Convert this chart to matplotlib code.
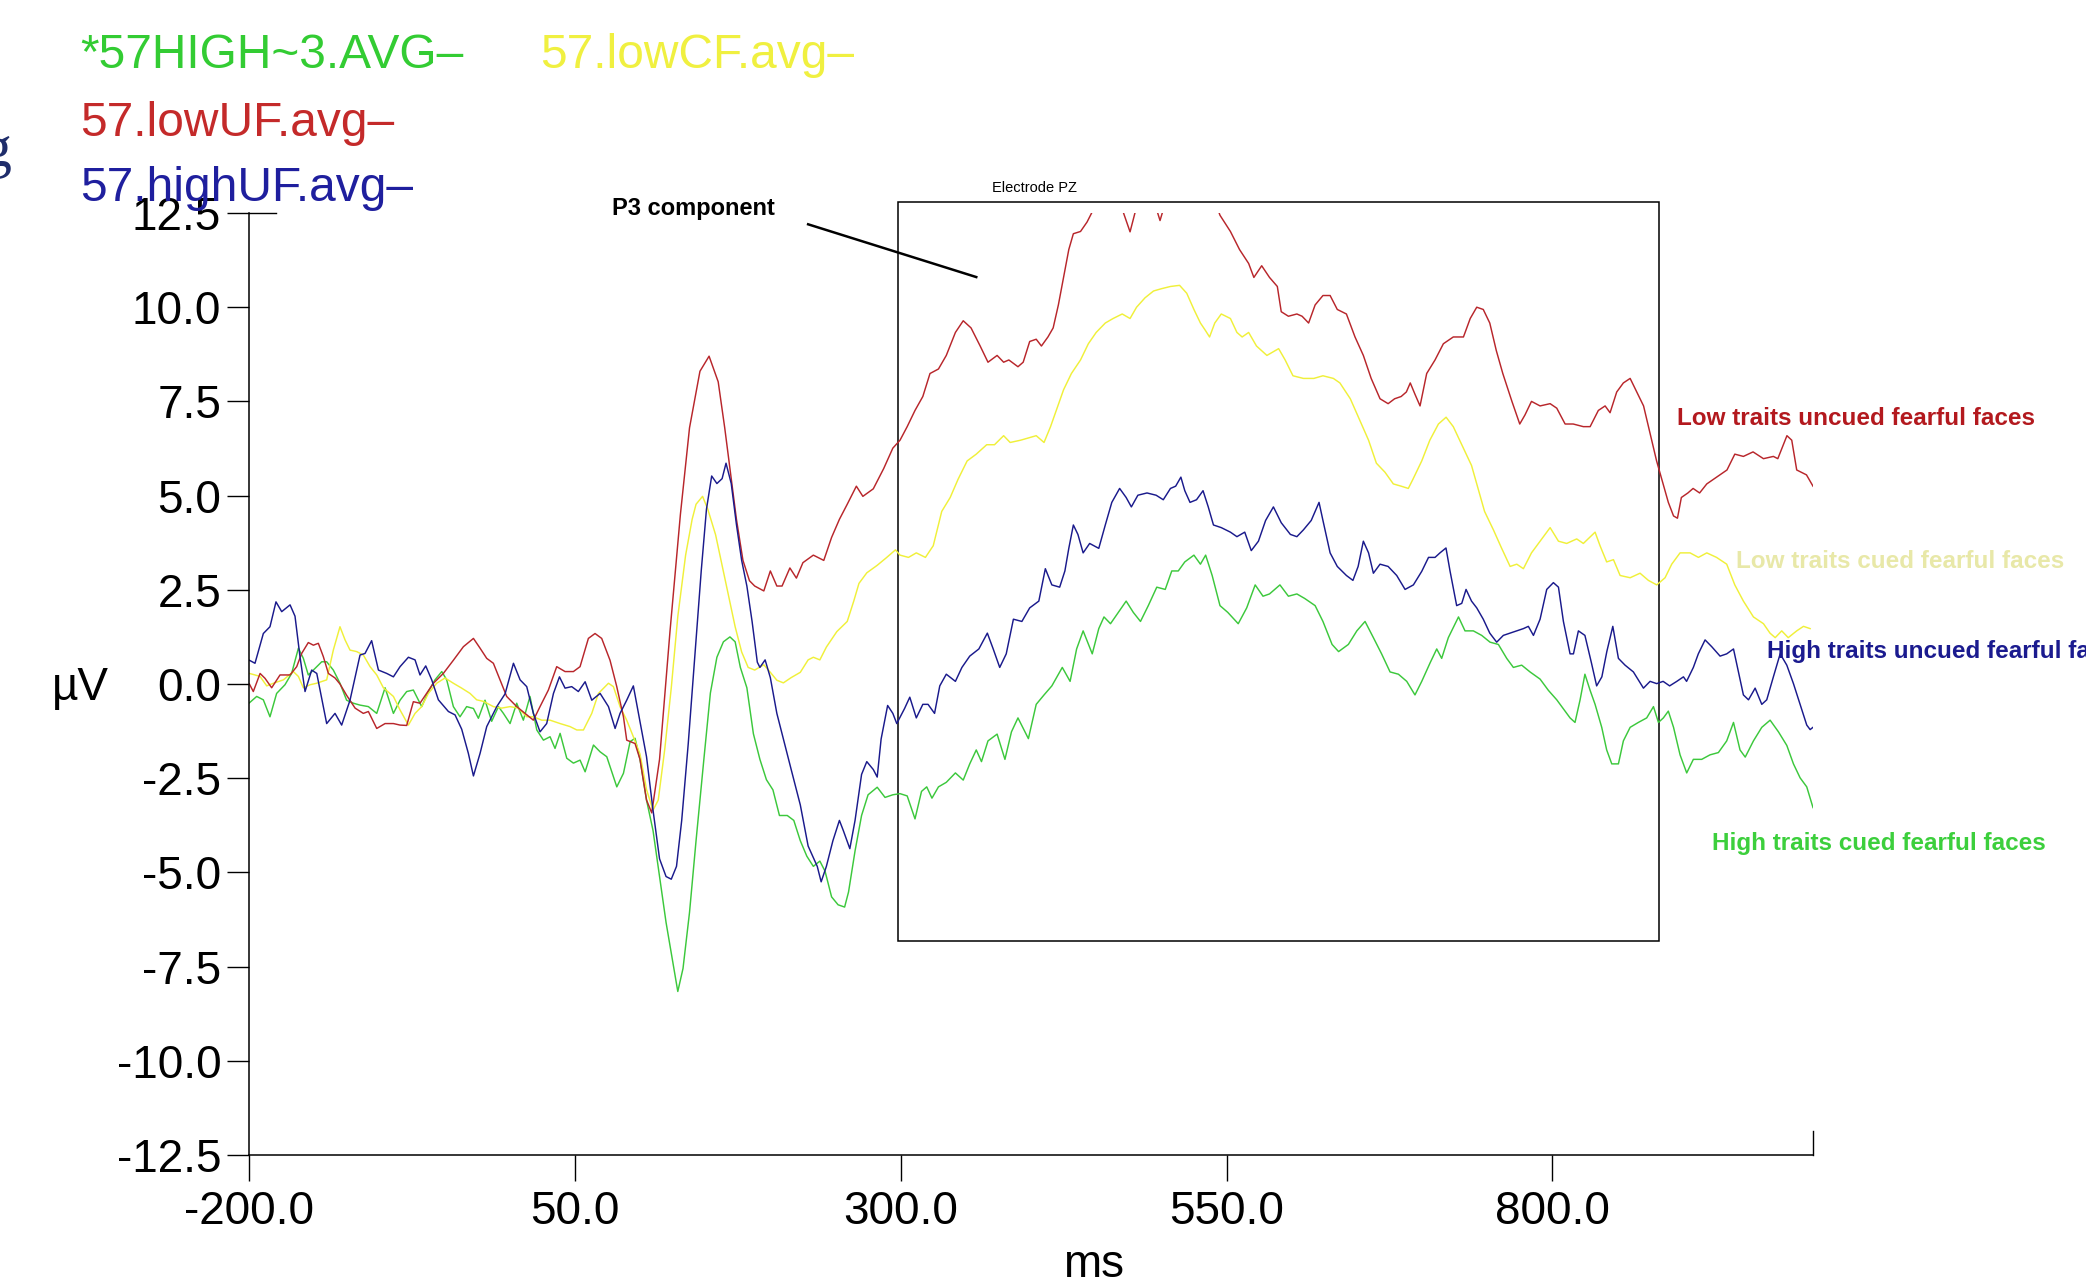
import matplotlib
matplotlib.use("Agg")
import matplotlib.pyplot as plt
from matplotlib.patches import Rectangle

plt.rcParams["font.family"] = ["Liberation Sans", "DejaVu Sans"]

# ── ERP waveforms, electrode PZ (ms, µV) ────────────────────────────────────
red_ms = [-199.7, -196.7, -191.5, -187.7, -182.6, -176.2, -168.5, -163.4, -159.6, -154.5,
          -150.6, -146.8, -143.0, -139.1, -134.0, -130.2, -125.1, -118.6, -112.3, -108.4,
          -102.0, -95.6, -89.2, -84.1, -79.0, -73.9, -68.8, -63.7, -58.5, -50.9,
          -43.2, -35.5, -27.8, -22.7, -17.6, -12.5, -7.4, -2.3, 5.4, 11.8,
          18.2, 23.3, 29.7, 36.1, 42.5, 48.9, 54.0, 60.4, 65.5, 70.6,
          77.0, 82.1, 87.3, 89.8, 96.2, 100, 105, 109, 115, 123,
          131, 138, 146, 153, 160, 165, 169, 174, 179, 184,
          188, 195, 200, 205, 209, 215, 220, 225, 233, 241,
          247, 253, 259, 266, 271, 279, 287, 294, 299.5, 305,
          311, 317, 322.5, 329, 335, 342, 348, 354, 361, 367,
          374, 379, 383, 390, 394, 399, 404, 408, 413, 417,
          421, 425, 429, 432.5, 438, 443, 448, 455, 462, 468,
          476, 482, 490, 499, 505, 515, 525, 535, 545, 553,
          560, 567, 571, 577, 583, 589, 592, 597.5, 604, 608,
          613, 618, 624, 629.5, 635, 642, 648.6, 655, 661, 667.8,
          674, 679, 684, 688, 691, 694.6, 698.5, 703.6, 710, 716.4,
          724, 731.8, 737, 742, 747, 752, 757, 762, 769, 775,
          779, 784, 790.6, 798.3, 803.4, 809.8, 816, 823.8, 829, 835.3,
          840.5, 844.3, 849.4, 854.5, 859.7, 864.8, 870, 875, 880, 884,
          889, 893, 896, 899, 904, 908, 913, 918.5, 926, 934,
          940, 946.6, 954, 962, 969.6, 973, 980, 983.7, 987.5, 991,
          995, 1000]
red_uv = [0.0, -0.2, 0.28, 0.15, -0.1, 0.24, 0.24, 0.46, 0.81, 1.1,
          1.03, 1.08, 0.73, 0.28, 0.16, 0.0, -0.3, -0.64, -0.78, -0.73,
          -1.18, -1.05, -1.05, -1.09, -1.1, -0.47, -0.51, -0.25, 0.02, 0.28,
          0.63, 0.99, 1.21, 0.95, 0.68, 0.55, 0.11, -0.33, -0.6, -0.78,
          -0.96, -0.6, -0.16, 0.46, 0.33, 0.33, 0.46, 1.21, 1.34, 1.21,
          0.63, -0.06, -0.87, -1.49, -1.58, -2.0, -3.08, -3.42, -2.0, 1.39,
          4.5, 6.8, 8.3, 8.7, 8.02, 6.8, 5.72, 4.37, 3.28, 2.74,
          2.6, 2.47, 3.0, 2.6, 2.6, 3.08, 2.81, 3.22, 3.42, 3.28,
          3.89, 4.37, 4.77, 5.25, 4.98, 5.18, 5.72, 6.26, 6.47, 6.83,
          7.26, 7.63, 8.24, 8.36, 8.72, 9.33, 9.64, 9.45, 8.97, 8.54,
          8.72, 8.54, 8.6, 8.42, 8.54, 9.09, 9.15, 8.97, 9.21, 9.45,
          10.06, 10.79, 11.53, 11.95, 12.01, 12.26, 12.6, 13.0, 13.2, 12.8,
          12.0, 12.8, 13.3, 12.3, 13.0, 13.6, 13.8, 13.4, 12.44, 12.01,
          11.53, 11.16, 10.79, 11.1, 10.79, 10.55, 9.88, 9.76, 9.82, 9.76,
          9.58, 10.06, 10.31, 10.31, 9.94, 9.82, 9.21, 8.72, 8.11, 7.57,
          7.44, 7.57, 7.63, 7.75, 7.99, 7.69, 7.38, 8.24, 8.6, 9.03,
          9.21, 9.21, 9.7, 10.0, 9.94, 9.58, 8.85, 8.24, 7.5, 6.9,
          7.14, 7.5, 7.38, 7.44, 7.32, 6.9, 6.9, 6.83, 6.83, 7.26,
          7.38, 7.2, 7.75, 7.99, 8.11, 7.75, 7.38, 6.65, 5.92, 5.43,
          4.82, 4.46, 4.4, 4.95, 5.07, 5.19, 5.07, 5.31, 5.49, 5.68,
          6.1, 6.04, 6.16, 5.98, 6.04, 5.98, 6.59, 6.47, 5.68, 5.62,
          5.55, 5.25]

yellow_ms = [-199.7, -195.4, -191.5, -186.4, -181.3, -173.6, -166.0, -162.1, -158.3, -153.2,
             -148.1, -140.4, -135.3, -130.2, -126.3, -122.5, -117.4, -112.3, -107.1, -102.0,
             -96.9, -89.2, -84.1, -77.7, -72.6, -67.5, -62.4, -56.0, -49.6, -43.2,
             -36.8, -30.4, -25.3, -20.2, -12.5, -6.1, 0.3, 6.7, 13.1, 18.2,
             24.6, 31.0, 38.7, 46.3, 51.5, 56.6, 63.0, 68.1, 75.8, 79.6,
             84.7, 89.8, 94.9, 100, 105, 110, 114, 119, 124, 129,
             135, 140, 143, 148, 152, 158, 163, 168, 173, 178,
             183, 188, 195, 200, 205, 210, 216, 223, 229, 233,
             238, 243, 251, 259, 264, 268, 274, 282, 289, 296,
             299.5, 306, 312, 319, 325, 331.5, 338, 344, 351, 358,
             366, 372, 379, 384, 392, 398, 404, 410, 415, 420,
             425, 431, 438, 444, 450, 457, 463, 470, 476, 481,
             487.5, 494, 500, 507, 514, 519.5, 525, 530, 533.5, 537,
             541, 546, 553, 558, 562, 567, 573, 581, 590, 595,
             601, 609, 617, 624, 632, 637, 645, 652, 659, 665,
             671.6, 678, 684, 689.5, 693, 699.8, 706, 712.6, 718.5, 724,
             730.5, 738, 743, 748, 754.8, 761, 767.6, 772.7, 777.8, 784,
             791.9, 798.3, 804.7, 811, 818.7, 823.8, 832.8, 836.6, 841.7, 846.9,
             852, 859.7, 867.3, 873.7, 880.1, 886.5, 891.6, 898, 905.7, 912.1,
             918.5, 926, 933.8, 940, 946.6, 954.3, 962, 967, 971, 976,
             981, 987.5, 992.7, 997.8]
yellow_uv = [0.28, 0.24, 0.2, -0.05, 0.02, 0.11, 0.33, 0.2, -0.1, -0.02,
             0.02, 0.11, 0.9, 1.52, 1.17, 0.9, 0.86, 0.77, 0.46, 0.24,
             -0.1, -0.33, -0.69, -1.09, -0.78, -0.6, -0.25, 0.02, 0.16, 0.02,
             -0.11, -0.25, -0.42, -0.46, -0.6, -0.64, -0.6, -0.64, -0.87, -0.87,
             -0.96, -0.96, -1.05, -1.13, -1.22, -1.22, -0.78, -0.25, 0.02, -0.07,
             -0.6, -0.96, -1.4, -1.86, -2.8, -3.35, -3.08, -1.73, -0.1, 1.79,
             3.42, 4.37, 4.77, 4.98, 4.64, 3.96, 3.15, 2.34, 1.52, 0.85,
             0.44, 0.37, 0.51, 0.31, 0.1, 0.03, 0.17, 0.31, 0.64, 0.71,
             0.64, 0.98, 1.39, 1.66, 2.2, 2.67, 2.95, 3.15, 3.35, 3.56,
             3.42, 3.36, 3.48, 3.36, 3.67, 4.58, 4.95, 5.43, 5.92, 6.1,
             6.35, 6.35, 6.59, 6.41, 6.47, 6.53, 6.59, 6.41, 6.83, 7.32,
             7.81, 8.24, 8.6, 9.03, 9.33, 9.58, 9.7, 9.82, 9.7, 10.0,
             10.25, 10.43, 10.49, 10.55, 10.58, 10.37, 9.94, 9.58, 9.4, 9.21,
             9.58, 9.82, 9.7, 9.33, 9.21, 9.33, 8.97, 8.72, 8.9, 8.6,
             8.18, 8.11, 8.11, 8.18, 8.11, 7.99, 7.57, 7.02, 6.47, 5.86,
             5.62, 5.31, 5.25, 5.19, 5.43, 5.92, 6.47, 6.9, 7.08, 6.83,
             6.35, 5.8, 5.19, 4.58, 4.09, 3.61, 3.12, 3.18, 3.06, 3.48,
             3.85, 4.15, 3.79, 3.73, 3.85, 3.73, 4.03, 3.67, 3.24, 3.3,
             2.88, 2.82, 2.94, 2.75, 2.63, 2.82, 3.18, 3.48, 3.48, 3.36,
             3.48, 3.36, 3.18, 2.63, 2.2, 1.78, 1.6, 1.35, 1.23, 1.41,
             1.23, 1.41, 1.53, 1.47]

blue_ms = [-199.7, -195.4, -189.0, -183.9, -179.3, -174.9, -168.5, -164.7, -160.9, -157.0,
           -151.9, -148.0, -140.4, -134.0, -128.9, -122.5, -114.8, -111.0, -105.9, -100.7,
           -94.3, -89.2, -84.1, -77.7, -72.6, -68.8, -64.4, -59.8, -54.7, -47.0,
           -41.9, -36.8, -31.7, -27.8, -22.7, -17.6, -9.9, -3.5, 2.9, 8.0,
           13.1, 18.2, 23.3, 28.4, 33.6, 38.2, 42.5, 47.6, 52.7, 57.9,
           63.0, 69.4, 75.8, 80.9, 84.7, 89.8, 94.9, 98.8, 105, 110,
           115, 120, 124, 128, 132, 137, 142, 147, 151, 155,
           159, 163, 166, 170, 174, 178, 182, 186, 190, 192,
           196, 200, 205, 210, 216, 223, 229, 236, 239, 243,
           248, 253, 256, 261, 265, 270, 274, 279, 282, 285,
           290, 294, 297, 303, 307, 312, 317, 321, 326, 330,
           335, 342, 347, 353, 360, 366.5, 371, 376, 381, 386.5,
           393, 399, 406, 411, 416, 422, 426, 429, 432.5, 436,
           440, 445, 452, 457, 462, 468, 473, 477, 482, 489,
           496, 501.5, 507, 511, 515, 518, 522, 527, 532, 536,
           540, 546, 553, 558, 564, 569, 574.5, 580, 586, 592,
           599, 604, 609, 615, 621, 624, 629.5, 635, 642, 647,
           651, 655, 659, 662.7, 667.8, 674, 680.6, 687, 693.4, 699.8,
           705, 710, 713.8, 718.4, 721.5, 726.6, 730.5, 733.8, 738, 742,
           747, 752, 757.3, 762.4, 767.6, 772.7, 777.8, 781.6, 785.5, 790.6,
           795.7, 800.8, 804.7, 808.5, 813.6, 816.2, 820, 825, 830, 834,
           838, 841.8, 846.4, 850.7, 855.8, 862.2, 869.9, 875, 880.1, 885,
           890, 895.5, 900.6, 903, 908.2, 912, 917.2, 922.3, 928.7, 933.8,
           939, 942.8, 946.6, 950.5, 955.6, 960.7, 964.5, 969.6, 974.8, 979.9,
           985, 990.1, 995.2, 997.8, 1000]
blue_uv = [0.63, 0.55, 1.34, 1.52, 2.18, 1.92, 2.1, 1.8, 0.73, -0.2,
           0.37, 0.28, -1.05, -0.78, -1.09, -0.43, 0.77, 0.81, 1.15, 0.37,
           0.28, 0.19, 0.46, 0.71, 0.64, 0.24, 0.48, 0.11, -0.42, -0.73,
           -0.82, -1.2, -1.84, -2.44, -1.84, -1.13, -0.6, -0.26, 0.55, 0.11,
           -0.07, -0.78, -1.27, -1.05, -0.25, 0.19, -0.11, -0.07, -0.2, 0.06,
           -0.43, -0.25, -0.6, -1.18, -0.78, -0.43, -0.05, -0.78, -1.93, -3.35,
           -4.64, -5.11, -5.18, -4.84, -3.62, -1.59, 0.71, 3.01, 4.64, 5.52,
           5.32, 5.45, 5.86, 5.32, 4.23, 3.28, 2.6, 1.66, 0.58, 0.44,
           0.64, 0.17, -0.78, -1.46, -2.27, -3.21, -4.3, -4.84, -5.25, -4.84,
           -4.16, -3.62, -3.89, -4.37, -3.62, -2.4, -2.06, -2.27, -2.47, -1.46,
           -0.57, -0.78, -1.05, -0.65, -0.35, -0.9, -0.54, -0.54, -0.78, -0.05,
           0.26, 0.07, 0.44, 0.74, 0.93, 1.35, 0.93, 0.44, 0.8, 1.72,
           1.66, 2.02, 2.2, 3.06, 2.63, 2.57, 3.0, 3.6, 4.22, 3.97,
           3.48, 3.73, 3.6, 4.22, 4.82, 5.19, 4.95, 4.7, 5.01, 5.07,
           5.01, 4.89, 5.19, 5.25, 5.49, 5.13, 4.82, 4.89, 5.13, 4.7,
           4.22, 4.15, 4.03, 3.91, 4.03, 3.54, 3.79, 4.34, 4.7, 4.28,
           3.97, 3.91, 4.09, 4.34, 4.82, 4.34, 3.48, 3.12, 2.88, 2.75,
           3.12, 3.79, 3.48, 2.94, 3.18, 3.12, 2.88, 2.51, 2.63, 2.99,
           3.36, 3.36, 3.48, 3.61, 3.0, 2.08, 2.14, 2.51, 2.2, 2.02,
           1.72, 1.35, 1.11, 1.29, 1.35, 1.41, 1.47, 1.53, 1.29, 1.72,
           2.51, 2.69, 2.57, 1.66, 0.8, 0.8, 1.41, 1.29, 0.56, -0.05,
           0.19, 0.86, 1.53, 0.68, 0.5, 0.32, -0.11, 0.07, 0.01, 0.07,
           -0.05, 0.07, 0.19, 0.07, 0.44, 0.8, 1.17, 0.99, 0.74, 0.8,
           0.93, 0.32, -0.29, -0.42, -0.11, -0.54, -0.42, 0.19, 0.8, 0.5,
           0.01, -0.54, -1.09, -1.21, -1.15]

green_ms = [-199.7, -194.1, -189.0, -183.9, -178.8, -172.4, -167.3, -162.1, -158.3, -154.5,
            -150.6, -144.2, -140.4, -135.3, -130.2, -125.1, -119.9, -114.8, -108.4, -102.0,
            -95.6, -89.2, -84.1, -79.0, -73.9, -67.5, -62.4, -57.3, -52.1, -48.3,
            -43.2, -38.1, -33.0, -27.8, -24.0, -18.9, -13.8, -8.6, -4.8, 0.3,
            5.4, 10.5, 15.6, 20.8, 25.9, 31.0, 34.8, 38.7, 43.8, 48.9,
            54.0, 57.9, 64.3, 69.4, 74.5, 82.2, 87.3, 92.4, 96.2, 100,
            105, 110, 115, 120, 126, 129, 133, 138, 143, 149,
            154, 159, 164, 169, 173, 177, 182, 187, 192, 197,
            202, 207, 213, 218, 223, 228, 233, 238, 242, 247,
            252, 257, 260, 265, 270, 275, 282, 288, 294, 299.5,
            305, 311, 316, 320, 324, 329, 335, 342, 348, 353,
            358, 362, 367, 374, 380, 385, 390, 398, 404, 410,
            416, 424, 430, 435, 440, 447, 452, 456, 461, 467,
            473, 478.5, 484, 490, 496.5, 503, 508, 513, 518, 525,
            530, 534, 539, 545, 551, 559, 565.5, 572, 578, 583,
            591, 597.5, 604, 610, 618, 624, 631, 636, 643.5, 650,
            656.3, 662.7, 669, 675.5, 681.9, 688.3, 694.6, 699.8, 706.2, 711.3,
            715.1, 720.2, 728, 733, 739.4, 745.8, 752.2, 758.6, 765, 770.1,
            776.5, 782.9, 790.6, 797, 803.4, 808.5, 813.6, 817.4, 821.3, 825,
            829, 832.8, 837.9, 841.7, 845.6, 850.7, 854.5, 859.7, 866, 872.4,
            877.6, 881.4, 885.2, 889, 893, 898, 903.1, 908.2, 914.6, 921,
            927.4, 933.8, 939, 944, 948, 954.3, 960.7, 967.1, 973.5, 979.9,
            985, 990.1, 995.2, 1000]
green_uv = [-0.5, -0.33, -0.42, -0.87, -0.25, -0.02, 0.28, 0.95, 0.68, 0.24,
            0.37, 0.59, 0.59, 0.37, 0.02, -0.43, -0.51, -0.56, -0.6, -0.78,
            -0.1, -0.78, -0.43, -0.2, -0.16, -0.6, -0.2, 0.11, 0.33, 0.11,
            -0.6, -0.87, -0.6, -0.65, -0.91, -0.43, -0.99, -0.6, -0.78, -1.05,
            -0.51, -0.96, -0.33, -1.22, -1.49, -1.4, -1.71, -1.31, -1.97, -2.1,
            -2.02, -2.33, -1.62, -1.8, -1.93, -2.73, -2.37, -1.53, -1.44, -2.0,
            -3.08, -3.89, -5.11, -6.33, -7.55, -8.16, -7.55, -6.06, -4.16, -2.0,
            -0.24, 0.71, 1.12, 1.25, 1.12, 0.44, -0.1, -1.32, -2.0, -2.54,
            -2.81, -3.49, -3.49, -3.62, -4.16, -4.57, -4.84, -4.7, -4.97, -5.65,
            -5.86, -5.92, -5.52, -4.43, -3.49, -2.94, -2.74, -3.01, -2.94, -2.91,
            -2.97, -3.58, -2.85, -2.73, -3.03, -2.73, -2.61, -2.36, -2.55, -2.12,
            -1.75, -2.06, -1.51, -1.33, -2.0, -1.27, -0.9, -1.45, -0.54, -0.29,
            -0.05, 0.44, 0.07, 0.93, 1.41, 0.8, 1.47, 1.78, 1.6, 1.9,
            2.2, 1.9, 1.66, 2.08, 2.57, 2.51, 3.0, 3.0, 3.24, 3.42,
            3.18, 3.42, 2.88, 2.08, 1.9, 1.6, 2.02, 2.63, 2.33, 2.39,
            2.63, 2.33, 2.39, 2.27, 2.08, 1.66, 1.05, 0.86, 1.05, 1.41,
            1.66, 1.23, 0.8, 0.32, 0.26, 0.07, -0.29, 0.07, 0.56, 0.93,
            0.68, 1.23, 1.78, 1.41, 1.41, 1.29, 1.11, 1.05, 0.68, 0.44,
            0.5, 0.32, 0.13, -0.17, -0.42, -0.66, -0.9, -1.02, -0.42, 0.26,
            -0.17, -0.54, -1.15, -1.75, -2.12, -2.12, -1.51, -1.15, -1.02, -0.9,
            -0.6, -1.02, -0.9, -0.72, -1.15, -1.88, -2.36, -2.0, -2.0, -1.88,
            -1.82, -1.51, -1.02, -1.75, -1.94, -1.51, -1.15, -0.96, -1.27, -1.63,
            -2.12, -2.49, -2.73, -3.28]

legend_names = ["*57HIGH~3.AVG", "57.lowCF.avg", "57.lowUF.avg", "57.highUF.avg"]
condition_labels = ["High traits cued fearful faces", "Low traits cued fearful faces",
                    "Low traits uncued fearful faces", "High traits uncued fearful faces"]

x_ticks = [-200, 50, 300, 550, 800]
x_tick_labels = ["-200.0", "50.0", "300.0", "550.0", "800.0"]
y_ticks = [-12.5, -10.0, -7.5, -5.0, -2.5, 0.0, 2.5, 5.0, 7.5, 10.0, 12.5]
y_tick_labels = [f"{v:.1f}" for v in y_ticks]

# P3 window (ms / µV) and the pointer line
p3_box = (298, -6.83, 881.5, 12.78)
p3_pointer_ms = [229, 358]
p3_pointer_uv = [12.2, 10.8]

# ── figure ──────────────────────────────────────────────────────────────────
W, H = 2086, 1287
fig = plt.figure(figsize=(W / 100, H / 100), dpi=100, facecolor="white")
ax = fig.add_axes([249 / W, 1 - 1155 / H, (1813 - 249) / W, 942 / H])

series = [
    (green_ms, green_uv, "#3cc83c"),
    (yellow_ms, yellow_uv, "#f0f03a"),
    (red_ms, red_uv, "#b8262b"),
    (blue_ms, blue_uv, "#1a1a8c"),
]
for ms, uv, col in series:
    ax.plot(ms, uv, color=col, lw=1.05)

ax.set_xlim(-200, 1000)
ax.set_ylim(-12.5, 12.5)
ax.set_xticks(x_ticks)
ax.set_xticklabels(x_tick_labels)
ax.set_yticks(y_ticks)
ax.set_yticklabels(y_tick_labels)
ax.tick_params(axis="x", length=19, width=1, pad=6.5, labelsize=33, direction="out")
ax.tick_params(axis="y", length=16, width=1, pad=4, labelsize=33, direction="out")
for side in ("top", "right"):
    ax.spines[side].set_visible(False)
for side in ("left", "bottom"):
    ax.spines[side].set_linewidth(1.1)

# small upward tick at the end of the time axis, and the top tick crossing the axis
ax.axvline(1000, 0, 0.026, color="black", lw=1, clip_on=False)
ax.plot([0, 27 / 1564], [1, 1], transform=ax.transAxes, color="black", lw=1, clip_on=False)

x0, y0, x1, y1 = p3_box
ax.add_patch(Rectangle((x0, y0), x1 - x0, y1 - y0, fill=False, ec="black", lw=1.1, clip_on=False))
ax.plot(p3_pointer_ms, p3_pointer_uv, color="black", lw=1.8, clip_on=False)

def ftext(px, py, s, **kw):
    fig.text(px / W, 1 - py / H, s, **kw)

ftext(612, 215, "P3 component", fontsize=17, fontweight="bold", va="baseline")
ftext(992, 192, "Electrode PZ", fontsize=10.5, va="baseline")

# file legend top-left
legend_pos = [(80, 68), (540, 68), (80, 136), (80, 201)]
legend_cols = ["#33cc33", "#f0f040", "#c42a2a", "#1f1f9e"]
for (px, py), name, col in zip(legend_pos, legend_names, legend_cols):
    ftext(px, py, name + "\u2013", fontsize=34.5, color=col, va="baseline")

# condition labels at the right
label_pos = [(1712, 850), (1736, 568), (1677, 425), (1767, 658)]
label_cols = ["#3ccf3c", "#e8e8a8", "#b3191e", "#1b1b8f"]
for (px, py), s, col in zip(label_pos, condition_labels, label_cols):
    ftext(px, py, s, fontsize=17.5, fontweight="bold", color=col, va="baseline")

ftext(52, 700, "\u00b5V", fontsize=33, va="baseline")
ftext(1094, 1277, "ms", fontsize=33, ha="center", va="baseline")

# leftover glyph from the slide at the left edge
ftext(11, 166, "g", fontsize=43, ha="right", va="baseline",
      family="Liberation Serif", color="#1f2d6b")

fig.savefig("out.png", dpi=100, facecolor="white")
